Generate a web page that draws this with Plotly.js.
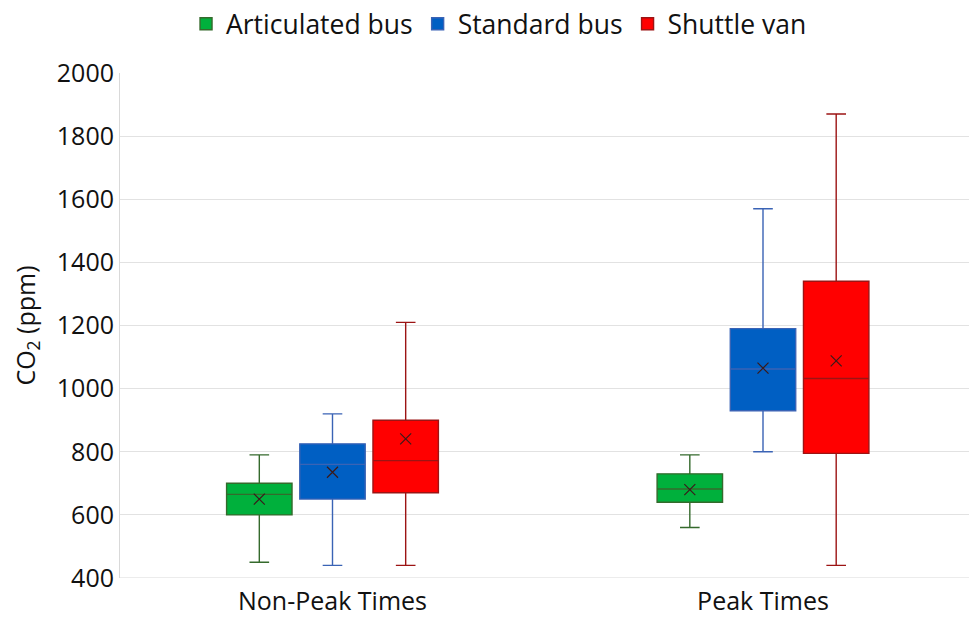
<!DOCTYPE html>
<html>
<head>
<meta charset="utf-8">
<script src="https://cdn.plot.ly/plotly-3.0.1.min.js"></script>
<style>
  html, body { margin: 0; padding: 0; background: #ffffff; }
  #chart { width: 969px; height: 622px; }
</style>
</head>
<body>
<div id="chart"></div>
<script>
// Time periods along the x axis
const periods = ['Non-Peak Times', 'Peak Times'];

// Vehicle types
const vehicles = ['Articulated bus', 'Standard bus', 'Shuttle van'];

// CO2 summary statistics (ppm) per vehicle, one value per period
const articulatedLow    = [450, 560];
const articulatedQ1     = [600, 640];
const articulatedMedian = [665, 682];
const articulatedQ3     = [700, 730];
const articulatedHigh   = [790, 790];
const articulatedMean   = [650, 680];

const standardLow    = [440, 800];
const standardQ1     = [650, 930];
const standardMedian = [760, 1062];
const standardQ3     = [825, 1190];
const standardHigh   = [920, 1570];
const standardMean   = [735, 1065];

const shuttleLow    = [440, 440];
const shuttleQ1     = [670, 795];
const shuttleMedian = [772, 1032];
const shuttleQ3     = [900, 1340];
const shuttleHigh   = [1210, 1870];
const shuttleMean   = [841, 1088];

// Y axis ticks
const yTicks = [400, 600, 800, 1000, 1200, 1400, 1600, 1800, 2000];

// Styling per vehicle
const fills = ['#00b03c', '#005fc3', '#ff0000'];
const lines = ['#356a2c', '#3a63b5', '#9c1414'];
const groupOffset = 0.17;
const boxWidth = 0.152;

const stats = [
  { low: articulatedLow, q1: articulatedQ1, med: articulatedMedian, q3: articulatedQ3, high: articulatedHigh, mean: articulatedMean },
  { low: standardLow,    q1: standardQ1,    med: standardMedian,    q3: standardQ3,    high: standardHigh,    mean: standardMean },
  { low: shuttleLow,     q1: shuttleQ1,     med: shuttleMedian,     q3: shuttleQ3,     high: shuttleHigh,     mean: shuttleMean }
];

const traces = [];
stats.forEach((s, i) => {
  const xs = periods.map((_, p) => p + (i - 1) * groupOffset);
  traces.push({
    type: 'box',
    name: vehicles[i],
    x: xs,
    lowerfence: s.low,
    q1: s.q1,
    median: s.med,
    q3: s.q3,
    upperfence: s.high,
    width: boxWidth,
    whiskerwidth: 0.3,
    fillcolor: fills[i],
    line: { color: lines[i], width: 1.4 },
    hoverinfo: 'y'
  });
  // Mean shown as a cross
  traces.push({
    type: 'scatter',
    mode: 'markers',
    x: xs,
    y: s.mean,
    showlegend: false,
    hoverinfo: 'y',
    marker: { symbol: 'x-thin', size: 11, line: { color: '#3a1a1a', width: 1.2 } }
  });
});

const layout = {
  width: 969,
  height: 622,
  margin: { l: 120, r: 0, t: 73, b: 44 },
  paper_bgcolor: '#ffffff',
  plot_bgcolor: '#ffffff',
  font: { family: '"Open Sans", "Noto Sans", sans-serif', color: '#111111' },
  showlegend: true,
  legend: {
    orientation: 'h',
    xref: 'container', yref: 'container',
    x: 0.515, xanchor: 'center',
    y: 1, yanchor: 'top',
    font: { size: 26.5, color: '#111111' },
    itemwidth: 30,
    tracegroupgap: 0
  },
  xaxis: {
    range: [-0.4936, 1.4785],
    tickvals: [0, 1],
    ticktext: periods,
    showgrid: false,
    zeroline: false,
    showline: false,
    ticks: '',
    ticklabelstandoff: 6,
    tickfont: { size: 25, color: '#111111' },
    fixedrange: true
  },
  yaxis: {
    range: [400, 2000],
    tickvals: yTicks,
    ticktext: yTicks.map(String),
    showgrid: true,
    gridcolor: '#e2e2e2',
    gridwidth: 1,
    zeroline: false,
    showline: true,
    linecolor: '#d9d9d9',
    ticks: '',
    ticklen: 0,
    tickfont: { size: 25, color: '#111111' },
    title: { text: 'CO<sub>2</sub> (ppm)', font: { size: 25, color: '#111111' }, standoff: 14 },
    fixedrange: true
  },
  shapes: [{
    type: 'line', xref: 'paper', yref: 'y',
    x0: 0, x1: 1, y0: 400, y1: 400,
    line: { color: '#d9d9d9', width: 1 }
  }]
};

Plotly.newPlot('chart', traces, layout, { displayModeBar: false, staticPlot: true });
</script>
</body>
</html>
